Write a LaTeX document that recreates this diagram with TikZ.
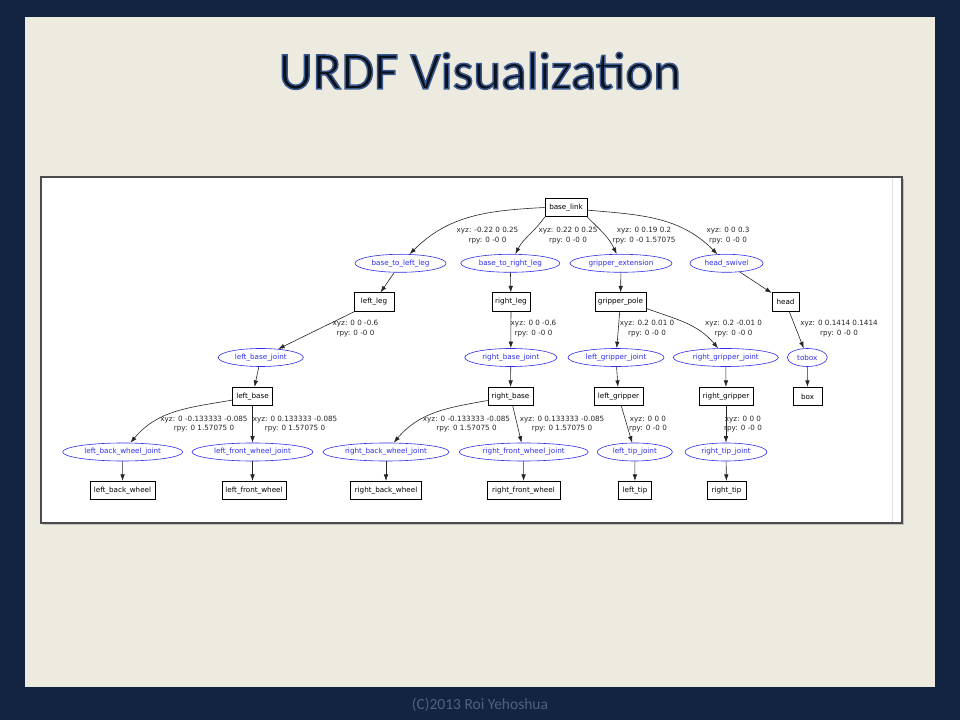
\documentclass[tikz,border=0pt]{standalone}
\usepackage{fontspec}
\newfontfamily\dvs{DejaVu Sans}
\newfontfamily\carl{Carlito}
\usetikzlibrary{shapes.geometric,arrows.meta}
\definecolor{navybg}{RGB}{19,36,64}
\definecolor{panelbg}{RGB}{237,234,224}
\definecolor{jblue}{RGB}{45,45,235}
\definecolor{footc}{RGB}{78,96,128}
\definecolor{titlec}{RGB}{10,16,28}
\newcommand{\glowtext}[1]{\special{pdf:code q 2 Tr 1.5 w 0.22 0.34 0.55 RG}#1\special{pdf:code Q}}
\begin{document}
\begin{tikzpicture}[x=1pt,y=1pt,
  linkbox/.style={draw=black, line width=0.6pt, rectangle, minimum height=18.5pt, inner xsep=3pt, inner ysep=0pt, font=\dvs\fontsize{7.2}{8}\selectfont, text=black, fill=white},
  jointell/.style={draw=jblue, line width=0.6pt, ellipse, minimum height=18pt, inner sep=0pt, font=\dvs\fontsize{7.2}{8}\selectfont, text=jblue, fill=white},
  elabel/.style={font=\dvs\fontsize{7.2}{9.5}\selectfont, align=center, text=black!85, inner sep=0pt},
  edge/.style={draw=black!85, line width=0.6pt, -{Latex[length=6.5pt,width=4.5pt]}},
  titletext/.style={font=\carl\fontsize{53}{60}\selectfont, anchor=base, inner sep=0pt},
]
\useasboundingbox (0,0) rectangle (960,720);
\fill[navybg] (0,0) rectangle (960,720);
\fill[panelbg] (25,33) rectangle (935,703);
% title
\node[titletext, text=titlec] (title) at (480,631) {\glowtext{URDF Visualization}};
% frame
\fill[black!25] (43,195) rectangle (904,541);
\fill[white] (41,197) rectangle (902,543);
\draw[black!12, line width=0.6pt] (892,198) -- (892,542);
\draw[black!70, line width=1.2pt] (41,197) rectangle (902,543);
% links
\node[linkbox, minimum width=42pt] (base_link) at (566,512.5) {base\_link};
\node[linkbox, minimum width=40pt] (left_leg) at (374,418) {left\_leg};
\node[linkbox, minimum width=38pt] (right_leg) at (511,418) {right\_leg};
\node[linkbox, minimum width=51pt] (gripper_pole) at (620.5,418) {gripper\_pole};
\node[linkbox, minimum width=27pt] (head) at (785.5,418) {head};
\node[linkbox, minimum width=40pt] (left_base) at (252.5,323.5) {left\_base};
\node[linkbox, minimum width=45pt] (right_base) at (510.5,323.5) {right\_base};
\node[linkbox, minimum width=49pt] (left_gripper) at (618.5,323.5) {left\_gripper};
\node[linkbox, minimum width=54pt] (right_gripper) at (726,323.5) {right\_gripper};
\node[linkbox, minimum width=29pt] (box) at (807.5,323.5) {box};
\node[linkbox, minimum width=65pt] (left_back_wheel) at (122.5,229.5) {left\_back\_wheel};
\node[linkbox, minimum width=64pt] (left_front_wheel) at (254,229.5) {left\_front\_wheel};
\node[linkbox, minimum width=71pt] (right_back_wheel) at (386,229.5) {right\_back\_wheel};
\node[linkbox, minimum width=73pt] (right_front_wheel) at (523.5,229.5) {right\_front\_wheel};
\node[linkbox, minimum width=33pt] (left_tip) at (635,229.5) {left\_tip};
\node[linkbox, minimum width=39pt] (right_tip) at (726.5,229.5) {right\_tip};
% joints
\node[jointell, minimum width=91pt] (btll) at (400.5,456.7) {base\_to\_left\_leg};
\node[jointell, minimum width=99pt] (btrl) at (510.3,456.7) {base\_to\_right\_leg};
\node[jointell, minimum width=102pt] (gext) at (621,456.7) {gripper\_extension};
\node[jointell, minimum width=73pt] (hsw) at (726.5,456.7) {head\_swivel};
\node[jointell, minimum width=85pt] (lbj) at (260.8,362.5) {left\_base\_joint};
\node[jointell, minimum width=92pt] (rbj) at (510.8,362.5) {right\_base\_joint};
\node[jointell, minimum width=96pt] (lgj) at (616,362.5) {left\_gripper\_joint};
\node[jointell, minimum width=105pt] (rgj) at (725.8,362.5) {right\_gripper\_joint};
\node[jointell, minimum width=40pt] (tobox) at (807.3,362.5) {tobox};
\node[jointell, minimum width=120pt] (lbwj) at (122.7,268) {left\_back\_wheel\_joint};
\node[jointell, minimum width=121pt] (lfwj) at (252.5,268) {left\_front\_wheel\_joint};
\node[jointell, minimum width=126pt] (rbwj) at (386,268) {right\_back\_wheel\_joint};
\node[jointell, minimum width=129pt] (rfwj) at (523.7,268) {right\_front\_wheel\_joint};
\node[jointell, minimum width=75pt] (ltj) at (634.8,268) {left\_tip\_joint};
\node[jointell, minimum width=82pt] (rtj) at (726,268) {right\_tip\_joint};
% edge labels
\node[elabel] (l1) at (487.5,484.5) {xyz: -0.22 0 0.25\\rpy: 0 -0 0};
\node[elabel] (l2) at (568,484.5) {xyz: 0.22 0 0.25\\rpy: 0 -0 0};
\node[elabel] (l3) at (644,484.5) {xyz: 0 0.19 0.2\\rpy: 0 -0 1.57075};
\node[elabel] (l4) at (728,484.5) {xyz: 0 0 0.3\\rpy: 0 -0 0};
\node[elabel] (l5) at (355.5,391.2) {xyz: 0 0 -0.6\\rpy: 0 -0 0};
\node[elabel] (l6) at (533.5,391.2) {xyz: 0 0 -0.6\\rpy: 0 -0 0};
\node[elabel] (l7) at (647,391.2) {xyz: 0.2 0.01 0\\rpy: 0 -0 0};
\node[elabel] (l8) at (733.5,391.2) {xyz: 0.2 -0.01 0\\rpy: 0 -0 0};
\node[elabel] (l9) at (839,391.2) {xyz: 0 0.1414 0.1414\\rpy: 0 -0 0};
\node[elabel] (l10) at (204,296) {xyz: 0 -0.133333 -0.085\\rpy: 0 1.57075 0};
\node[elabel] (l11) at (295,296) {xyz: 0 0.133333 -0.085\\rpy: 0 1.57075 0};
\node[elabel] (l12) at (466.5,296) {xyz: 0 -0.133333 -0.085\\rpy: 0 1.57075 0};
\node[elabel] (l13) at (562,296) {xyz: 0 0.133333 -0.085\\rpy: 0 1.57075 0};
\node[elabel] (l14) at (648,296) {xyz: 0 0 0\\rpy: 0 -0 0};
\node[elabel] (l15) at (743,296) {xyz: 0 0 0\\rpy: 0 -0 0};
% curved edges
\draw[edge] (base_link.west) to[out=183,in=45] (btll);
\draw[edge] (base_link.south west) to[out=235,in=62] (btrl);
\draw[edge] (base_link.south east) to[out=-45,in=115] (gext);
\draw[edge] (base_link.-7) to[out=-5,in=135] (hsw);
\draw[edge] (gripper_pole.-14) to[out=-20,in=130] (rgj);
\draw[edge] (left_base.190) to[out=190,in=50] (lbwj);
\draw[edge] (right_base.190) to[out=190,in=50] (rbwj);
% straight edges
\draw[edge] (btll) -- (left_leg);
\draw[edge] (btrl) -- (right_leg);
\draw[edge] (gext) -- (gripper_pole);
\draw[edge] (hsw) -- (head);
\draw[edge] (left_leg) -- (lbj);
\draw[edge] (right_leg) -- (rbj);
\draw[edge] (gripper_pole) -- (lgj);
\draw[edge] (head) -- (tobox);
\draw[edge] (lbj) -- (left_base);
\draw[edge] (rbj) -- (right_base);
\draw[edge] (lgj) -- (left_gripper);
\draw[edge] (rgj) -- (right_gripper);
\draw[edge] (tobox) -- (box);
\draw[edge] (left_base.south) -- (lfwj);
\draw[edge] (right_base) -- (rfwj);
\draw[edge] (left_gripper) -- (ltj);
\draw[edge] (right_gripper) -- (rtj);
\draw[edge] (lbwj) -- (left_back_wheel);
\draw[edge] (lfwj.south) -- (lfwj.south |- left_front_wheel.north);
\draw[edge] (rbwj) -- (right_back_wheel);
\draw[edge] (rfwj) -- (right_front_wheel);
\draw[edge] (ltj) -- (left_tip);
\draw[edge] (rtj) -- (right_tip);
% footer
\node[font=\carl\fontsize{15.5}{18}\selectfont, text=footc, anchor=base, inner sep=0pt] (footer) at (480,11) {(C)2013 Roi Yehoshua};
\end{tikzpicture}
\end{document}
